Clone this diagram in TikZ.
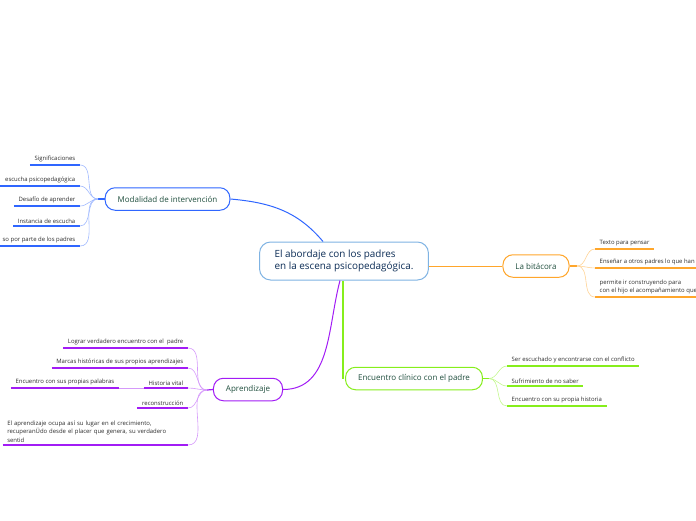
\documentclass[tikz,border=0pt]{standalone}
\usepackage{fontspec}
\setmainfont{Open Sans}
\usepackage{tikz}
\usetikzlibrary{positioning}
\definecolor{rootblue}{HTML}{7FB3E3}
\definecolor{rootnavy}{HTML}{0B2C55}
\definecolor{topicgreen}{HTML}{1F4E3D}
\definecolor{leafgray}{HTML}{2B2B2B}
\definecolor{modblue}{HTML}{2F66FF}
\definecolor{bitorange}{HTML}{FFA62B}
\definecolor{aprpurple}{HTML}{A21CF5}
\definecolor{encgreen}{HTML}{86EE1C}

\begin{document}
\begin{tikzpicture}[x=1pt, y=-1pt,
  root/.style={draw=rootblue, line width=1pt, rounded corners=11pt, fill=white,
    text=rootnavy, font=\fontsize{9.9}{12}\selectfont, align=left,
    inner xsep=15pt, minimum height=38pt},
  topic/.style={line width=1pt, rounded corners=10pt, fill=white, text=topicgreen,
    font=\fontsize{8}{9}\selectfont, inner xsep=12.5pt, minimum height=22.5pt},
  leaf/.style={text=leafgray, font=\fontsize{5.95}{8.6}\selectfont, align=left,
    inner xsep=4.5pt, inner ysep=2.5pt},
  uline/.style={line width=1.6pt},
  link/.style={line width=0.6pt}]
\useasboundingbox (0,0) rectangle (696,520);
\clip (0,0) rectangle (696,520);

% central topic and main branches
\node[root] (root) at (344,261) {El abordaje con los padres\\en la escena psicopedagógica.};
\node[topic, draw=modblue] (mod) at (167.5,199) {Modalidad de intervención};
\node[topic, draw=bitorange] (bit) at (536,266) {La bitácora};
\node[topic, draw=aprpurple] (apr) at (248,389.5) {Aprendizaje};
\node[topic, draw=encgreen] (enc) at (414,378.5) {Encuentro clínico con el padre};

\draw[modblue, line width=1pt] (mod.east) to[out=-5,in=130] ([xshift=-21pt]root.north);
\draw[bitorange, line width=1pt] (root.east |- bit.west) -- (bit.west);
\draw[aprpurple, line width=1pt] (apr.east) to[out=0,in=-105] ([xshift=-4pt]root.south);
\draw[encgreen, line width=1.1pt] ([xshift=-1pt]root.south) -- ([xshift=-1pt]root.south |- enc.west);

% Modalidad de intervencion
\coordinate (modj) at (98,199);
\draw[modblue, line width=1.2pt] (mod.west) -- (modj);
\foreach \y/\txt [count=\i] in {165/Significaciones, 186/escucha psicopedagógica,
    206/Desafío de aprender, 226/Instancia de escucha, 246/so por parte de los padres} {
  \node[leaf, anchor=south east] (mod\i) at (80,\y) {\txt};
  \draw[uline, modblue] (mod\i.south west) -- (mod\i.south east);
  \draw[link, modblue!45] (modj) to[out=180,in=0] (mod\i.south east);
}

% La bitacora
\coordinate (bitj) at (577,266);
\draw[bitorange, line width=1.2pt] (bit.east) -- (bitj);
\node[leaf, anchor=south west] (bit1) at (595,249) {Texto para pensar};
\node[leaf, anchor=south west] (bit2) at (595,268) {Enseñar a otros padres lo que han};
\node[leaf, anchor=south west] (bit3) at (595,297) {permite ir construyendo para\\con el hijo el acompañamiento que};
\foreach \i in {1,2,3} {
  \draw[uline, bitorange] (bit\i.south west) -- (bit\i.south east);
  \draw[link, bitorange!50] (bitj) to[out=0,in=180] (bit\i.south west);
}

% Aprendizaje
\coordinate (aprj) at (207,390);
\draw[aprpurple, line width=1.2pt] (apr.west) -- (aprj);
\foreach \y/\txt [count=\i] in {348/Lograr verdadero encuentro con el \ padre,
    368/Marcas históricas de sus propios aprendizajes, 388/Historia vital, 408/reconstrucción} {
  \node[leaf, anchor=south east] (apr\i) at (188,\y) {\txt};
}
\node[leaf, anchor=south east, text width=176pt] (apr5) at (188,445)
  {El aprendizaje ocupa así su lugar en el crecimiento,\\recuperanÜdo desde el placer que genera, su verdadero\\sentid};
\foreach \i in {1,...,5} {
  \draw[uline, aprpurple] (apr\i.south west) -- (apr\i.south east);
  \draw[link, aprpurple!45] (aprj) to[out=180,in=0] (apr\i.south east);
}
\node[leaf, anchor=south east] (hist1) at (119,388) {Encuentro con sus propias palabras};
\draw[uline, aprpurple] (hist1.south west) -- (hist1.south east);
\draw[link, aprpurple!45] (apr3.south west) -- (hist1.south east);

% Encuentro clinico con el padre
\coordinate (encj) at (489,378.5);
\draw[encgreen, line width=1.2pt] (enc.east) -- (encj);
\foreach \y/\txt [count=\i] in {366/Ser escuchado y encontrarse con el conflicto,
    386/Sufrimiento de no saber, 406/Encuentro con su propia historia} {
  \node[leaf, anchor=south west] (enc\i) at (507,\y) {\txt};
  \draw[uline, encgreen] (enc\i.south west) -- (enc\i.south east);
  \draw[link, encgreen!50] (encj) to[out=0,in=180] (enc\i.south west);
}
\end{tikzpicture}
\end{document}
